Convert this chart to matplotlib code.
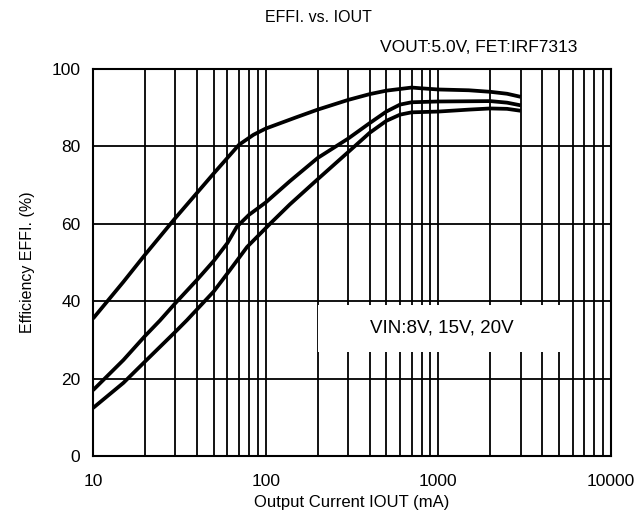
import matplotlib
matplotlib.use("Agg")
import matplotlib.pyplot as plt
from matplotlib.patches import Rectangle
import numpy as np

plt.rcParams['font.family'] = ['Liberation Sans', 'DejaVu Sans']

# Data
x_top = [10, 15, 20, 30, 50, 70, 85, 100, 150, 200, 300, 400, 500, 700, 800, 1000, 1500, 2000, 2500, 3000]
y_top = [35.5, 45.0, 52.0, 61.5, 73.0, 80.4, 83.0, 84.6, 87.5, 89.5, 92.0, 93.5, 94.4, 95.2, 95.0, 94.7, 94.5, 94.1, 93.6, 92.8]

x_mid = [10, 15, 20, 24.4, 30, 40, 50, 60, 68, 80, 100, 138, 200, 300, 400, 500, 600, 700, 1000, 2000, 2500, 3000]
y_mid = [17.0, 24.8, 31.0, 35.0, 39.5, 45.5, 50.4, 55.0, 59.2, 62.3, 65.5, 71.0, 77.0, 82.0, 86.0, 89.0, 90.8, 91.4, 91.6, 91.7, 91.3, 90.6]

x_bot = [10, 15, 20, 30, 35, 50, 62, 78, 106, 138, 200, 300, 400, 500, 600, 700, 1000, 1500, 2000, 2500, 3000]
y_bot = [12.4, 18.9, 24.4, 32.1, 35.1, 42.5, 48.0, 54.0, 60.0, 65.0, 71.5, 78.5, 83.5, 86.6, 88.2, 88.8, 89.0, 89.5, 89.8, 89.7, 89.2]

title = "EFFI. vs. IOUT"
subtitle = "VOUT:5.0V, FET:IRF7313"
box_text = "VIN:8V, 15V, 20V"
xlabel = "Output Current IOUT (mA)"
ylabel = "Efficiency EFFI. (%)"
xticks = [10, 100, 1000, 10000]
yticks = [0, 20, 40, 60, 80, 100]

fig = plt.figure(figsize=(6.4, 5.14), dpi=100)
ax = fig.add_axes([0.1453, 0.1128, 0.8094, 0.753])
ax.set_xscale('log')
ax.set_xlim(10, 10000)
ax.set_ylim(0, 100)

# grid
for dec in [10, 100, 1000]:
    for m in range(1, 10):
        v = dec * m
        if v > 10:
            ax.axvline(v, color='black', lw=1.3, zorder=1)
for yv in yticks[1:-1]:
    ax.axhline(yv, color='black', lw=1.3, zorder=1)

# white box
ax.add_patch(Rectangle((200, 27), 5780 - 200, 12.0, facecolor='white',
                       edgecolor='none', zorder=2))
ax.text(np.sqrt(200 * 5780) * 0.98, 33.2, box_text, ha='center', va='center',
        fontsize=13.5, zorder=3)

for xs, ys in [(x_top, y_top), (x_mid, y_mid), (x_bot, y_bot)]:
    ax.plot(xs, ys, color='black', lw=2.7, zorder=4, solid_capstyle='butt',
            solid_joinstyle='round')

for s in ax.spines.values():
    s.set_linewidth(1.5)
    s.set_color('black')

ax.set_xticks(xticks)
ax.set_xticklabels([str(t) for t in xticks])
ax.set_xticks([], minor=True)
ax.set_yticks(yticks)
ax.set_yticklabels([str(t) for t in yticks])
ax.tick_params(length=0, labelsize=12.5, pad=9)
ax.tick_params(axis='x', pad=13)

ax.set_xlabel(xlabel, fontsize=12, labelpad=4)
ax.set_ylabel(ylabel, fontsize=11.5, labelpad=12)

fig.text(318 / 640, 1 - 18 / 514, title, ha='center', va='center', fontsize=11.5)
fig.text(577 / 640, 1 - 47 / 514, subtitle, ha='right', va='center', fontsize=12.5)

fig.savefig('out.png', dpi=100)
